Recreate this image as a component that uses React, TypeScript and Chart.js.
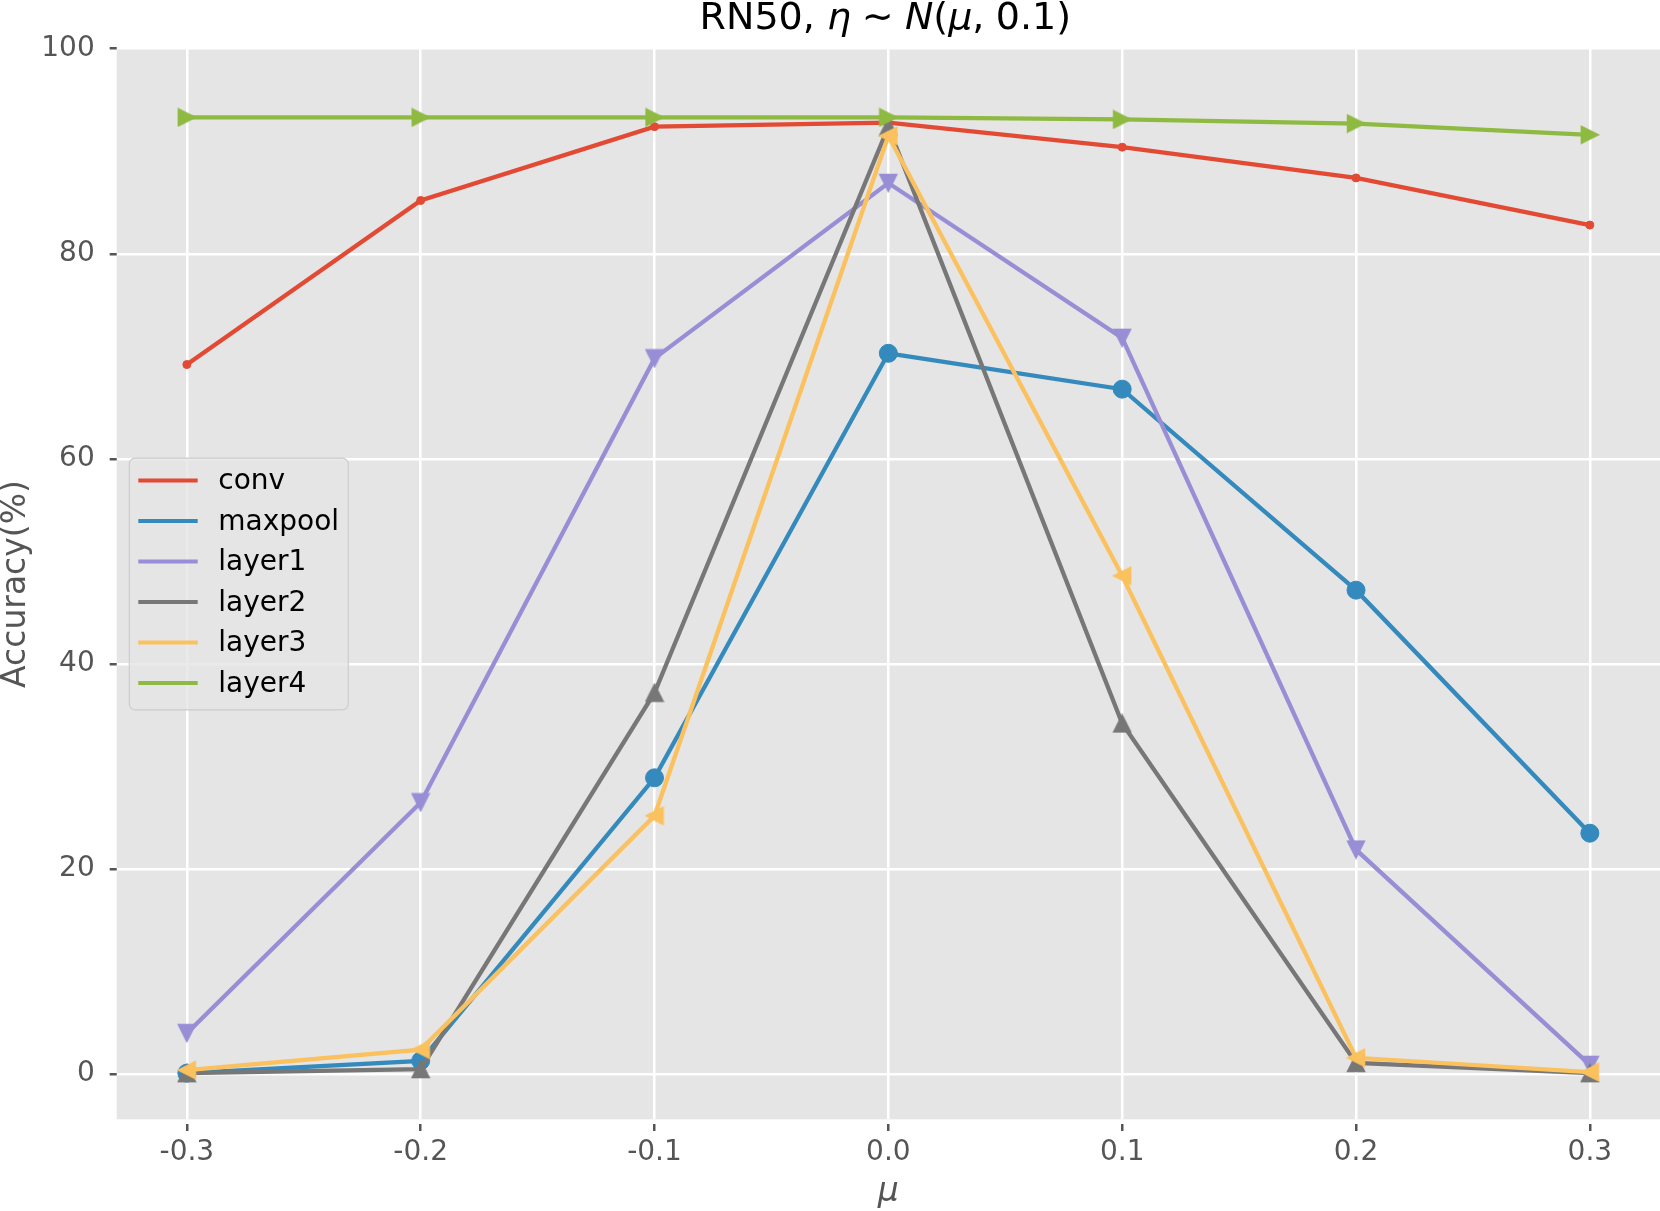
import React, { useEffect, useRef } from 'react';
import { Chart, registerables } from 'chart.js';

Chart.register(...registerables);

const xValues = [-0.3, -0.2, -0.1, 0.0, 0.1, 0.2, 0.3];
const xTickLabels = ['-0.3', '-0.2', '-0.1', '0.0', '0.1', '0.2', '0.3'];
const yTicks = [0, 20, 40, 60, 80, 100];
const seriesNames = ['conv', 'maxpool', 'layer1', 'layer2', 'layer3', 'layer4'];
const conv = [69.2, 85.2, 92.4, 92.8, 90.4, 87.4, 82.8];
const maxpool = [0.1, 1.3, 28.9, 70.3, 66.8, 47.2, 23.5];
const layer1 = [4.0, 26.5, 69.8, 86.9, 71.8, 21.9, 0.9];
const layer2 = [0.1, 0.5, 37.2, 92.4, 34.2, 1.1, 0.1];
const layer3 = [0.4, 2.4, 25.2, 91.5, 48.6, 1.6, 0.2];
const layer4 = [93.3, 93.3, 93.3, 93.3, 93.1, 92.7, 91.6];

const FONT = '"DejaVu Sans", sans-serif';

function makeTriangle(color: string): HTMLCanvasElement {
  const s = 20;
  const c = document.createElement('canvas');
  c.width = s;
  c.height = s;
  const g = c.getContext('2d')!;
  g.fillStyle = color;
  g.strokeStyle = color;
  g.lineWidth = 1.5;
  g.lineJoin = 'miter';
  g.beginPath();
  g.moveTo(s / 2, 1.5);
  g.lineTo(s - 1.5, s - 1.5);
  g.lineTo(1.5, s - 1.5);
  g.closePath();
  g.fill();
  g.stroke();
  return c;
}

const bgPlugin = {
  id: 'plotBg',
  beforeDraw(chart: any) {
    const { ctx, chartArea } = chart;
    ctx.save();
    ctx.fillStyle = '#E5E5E5';
    ctx.fillRect(chartArea.left, chartArea.top, chartArea.right - chartArea.left, chartArea.bottom - chartArea.top);
    ctx.restore();
  },
};

const titlePlugin = {
  id: 'mathTitle',
  afterDraw(chart: any) {
    const { ctx, chartArea } = chart;
    const size = 38;
    // [text, italic, gap after (em)]
    const parts: [string, boolean, number][] = [
      ['RN50, ', false, 0],
      ['η', true, 0.28],
      ['∼', false, 0.3],
      ['N', true, 0],
      ['(', false, 0],
      ['μ', true, 0],
      [',', false, 0.3],
      ['0.1)', false, 0],
    ];
    ctx.save();
    const fontOf = (it: boolean) => (it ? `italic ${size}px ${FONT}` : `${size}px ${FONT}`);
    let total = 0;
    const widths = parts.map(([t, it, gap]) => {
      ctx.font = fontOf(it);
      const w = ctx.measureText(t).width + gap * size;
      total += w;
      return w;
    });
    let x = (chartArea.left + chartArea.right) / 2 - total / 2 - 3;
    ctx.fillStyle = '#000';
    ctx.textBaseline = 'alphabetic';
    ctx.textAlign = 'left';
    parts.forEach(([t, it], i) => {
      ctx.font = fontOf(it);
      ctx.fillText(t, x, 29);
      x += widths[i];
    });
    ctx.restore();
  },
};

const legendPlugin = {
  id: 'boxLegend',
  afterDraw(chart: any) {
    const { ctx, chartArea } = chart;
    const w = 219;
    const h = 251.7;
    const x0 = chartArea.left + 12.6;
    const y0 = (chartArea.top + chartArea.bottom) / 2 - h / 2;
    ctx.save();
    ctx.beginPath();
    ctx.roundRect(x0, y0, w, h, 6);
    ctx.fillStyle = 'rgba(229,229,229,0.8)';
    ctx.fill();
    ctx.strokeStyle = '#CCCCCC';
    ctx.lineWidth = 1.2;
    ctx.stroke();
    chart.data.datasets.forEach((ds: any, i: number) => {
      const cy = y0 + 22.4 + i * 40.5;
      ctx.beginPath();
      ctx.moveTo(x0 + 9, cy);
      ctx.lineTo(x0 + 68.4, cy);
      ctx.strokeStyle = ds.borderColor;
      ctx.lineWidth = 4;
      ctx.stroke();
      ctx.fillStyle = '#000';
      ctx.font = `28px ${FONT}`;
      ctx.textBaseline = 'middle';
      ctx.textAlign = 'left';
      ctx.fillText(ds.label, x0 + 89, cy + 1.5);
    });
    ctx.restore();
  },
};

export default function App() {
  const ref = useRef<HTMLCanvasElement>(null);
  useEffect(() => {
    if (!ref.current) return;
    const colors = ['#E24A33', '#348ABD', '#988ED5', '#777777', '#FBC15E', '#8EBA42'];
    const rotations = [0, 0, 180, 0, 270, 90];
    const radii = [4, 9, 10, 10, 10, 10];
    const allData = [conv, maxpool, layer1, layer2, layer3, layer4];
    const datasets = seriesNames.map((name, i) => ({
      label: name,
      data: xValues.map((x, j) => ({ x, y: allData[i][j] })),
      borderColor: colors[i],
      backgroundColor: colors[i],
      borderWidth: 4.3,
      pointStyle: i < 2 ? 'circle' : (makeTriangle(colors[i]) as any),
      pointRotation: rotations[i],
      pointRadius: radii[i],
      pointBorderWidth: 1,
      pointBorderColor: colors[i],
      pointBackgroundColor: colors[i],
      tension: 0,
      order: 5 - i,
      clip: false as any,
    }));
    const tickFont = { family: FONT, size: 28 };
    const chart = new Chart(ref.current, {
      type: 'line',
      data: { datasets },
      plugins: [bgPlugin, titlePlugin, legendPlugin],
      options: {
        animation: false,
        responsive: false,
        devicePixelRatio: 1,
        layout: { autoPadding: false, padding: { top: 48.7, left: 0, right: 0, bottom: 0 } },
        plugins: { legend: { display: false }, tooltip: { enabled: false }, title: { display: false } },
        scales: {
          x: {
            type: 'linear',
            min: -0.33,
            max: 0.33,
            afterBuildTicks: (s: any) => {
              s.ticks = xValues.map((v) => ({ value: v }));
            },
            afterFit: (s: any) => {
              s.height = 91.7;
              s.paddingLeft = 0;
              s.paddingRight = 0;
            },
            ticks: {
              font: tickFont,
              color: '#555555',
              padding: 5,
              maxRotation: 0,
              autoSkip: false,
              callback: (_v: any, idx: number) => xTickLabels[idx],
            },
            grid: {
              color: '#FFFFFF',
              lineWidth: 2.5,
              tickColor: '#555555',
              tickLength: 12,
              tickWidth: 2.5,
              tickBorderDash: [0, 5, 7, 100],
            } as any,
            border: { display: false },
            title: {
              display: true,
              text: 'μ',
              color: '#555555',
              font: { family: FONT, size: 33, style: 'italic', lineHeight: 1 },
              padding: { top: 0, bottom: 2 },
            },
          },
          y: {
            type: 'linear',
            min: -4.4,
            max: 100,
            afterBuildTicks: (s: any) => {
              s.ticks = yTicks.map((v) => ({ value: v }));
            },
            afterFit: (s: any) => {
              s.width = 116.7;
            },
            ticks: {
              font: tickFont,
              color: '#555555',
              padding: 10,
              callback: (v: any) => String(v),
            },
            grid: {
              color: '#FFFFFF',
              lineWidth: 2.5,
              tickColor: '#555555',
              tickLength: 12,
              tickWidth: 2.5,
              tickBorderDash: [0, 5, 7, 100],
            } as any,
            border: { display: false },
            title: {
              display: true,
              text: 'Accuracy(%)',
              color: '#555555',
              font: { family: FONT, size: 33, lineHeight: 1 },
              padding: { top: 0, bottom: 0 },
            },
          },
        },
      } as any,
    });
    return () => chart.destroy();
  }, []);
  return (
    <div style={{ position: 'absolute', left: 0, top: 0 }}>
      <canvas ref={ref} width={1660} height={1211} style={{ display: 'block' }} />
    </div>
  );
}
